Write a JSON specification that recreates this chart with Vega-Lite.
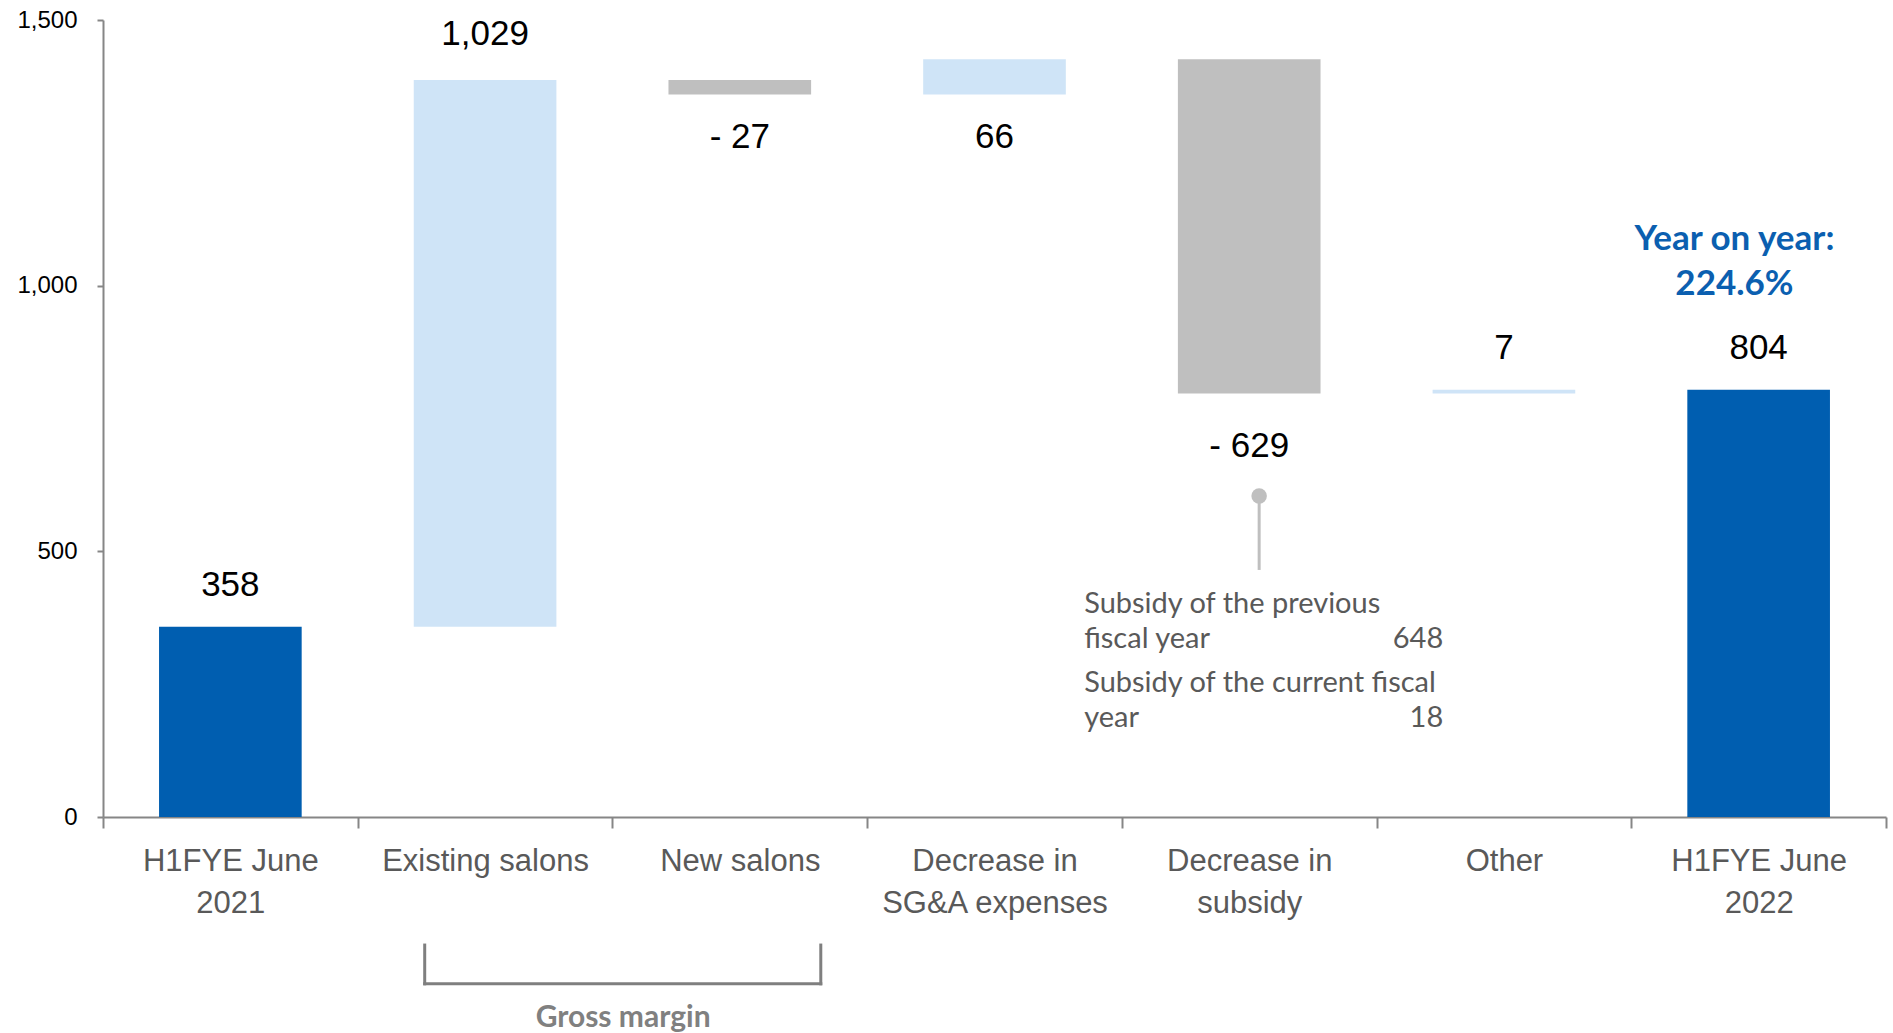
{
  "$schema": "https://vega.github.io/schema/vega-lite/v6.json",
  "width": 1783,
  "height": 797,
  "autosize": {"type": "none"},
  "padding": {"left": 103, "top": 20, "right": 7, "bottom": 216},
  "background": "white",
  "config": {"view": {"stroke": null}, "font": "Liberation Sans"},
  "datasets": {
    "bars": [
      {"category": "H1FYE June 2021", "low": 0, "high": 358, "label": "358", "kind": "total"},
      {"category": "Existing salons", "low": 358, "high": 1387, "label": "1,029", "kind": "increase"},
      {"category": "New salons", "low": 1360, "high": 1387, "label": "- 27", "kind": "decrease"},
      {"category": "Decrease in SG&A expenses", "low": 1360, "high": 1426, "label": "66", "kind": "increase"},
      {"category": "Decrease in subsidy", "low": 797, "high": 1426, "label": "- 629", "kind": "decrease"},
      {"category": "Other", "low": 797, "high": 804, "label": "7", "kind": "increase"},
      {"category": "H1FYE June 2022", "low": 0, "high": 804, "label": "804", "kind": "total"}
    ],
    "noteText": [
      {"category": "Decrease in subsidy", "text": "Subsidy of the previous", "value": 401},
      {"category": "Decrease in subsidy", "text": "fiscal year", "value": 335},
      {"category": "Decrease in subsidy", "text": "Subsidy of the current fiscal", "value": 252},
      {"category": "Decrease in subsidy", "text": "year", "value": 186}
    ],
    "noteNum": [
      {"category": "Decrease in subsidy", "text": "648", "value": 335},
      {"category": "Decrease in subsidy", "text": "18", "value": 186}
    ],
    "connector": [
      {"category": "Decrease in subsidy", "top": 604, "bottom": 465}
    ],
    "yoy": [
      {"category": "H1FYE June 2022", "text": "Year on year:", "value": 1088},
      {"category": "H1FYE June 2022", "text": "224.6%", "value": 1003}
    ],
    "bracket": [
      {"from": "Existing salons", "to": "New salons", "top": -241, "bottom": -314, "text": "Gross margin", "textValue": -378}
    ]
  },
  "layer": [
    {
      "data": {"name": "bars"},
      "mark": {"type": "bar", "width": {"band": 0.56}},
      "encoding": {
        "x": {
          "field": "category", "type": "nominal", "sort": null,
          "scale": {"domain": ["H1FYE June 2021", "Existing salons", "New salons", "Decrease in SG&A expenses", "Decrease in subsidy", "Other", "H1FYE June 2022"], "paddingInner": 0, "paddingOuter": 0},
          "axis": {
            "title": null, "labelAngle": 0, "labelFont": "Liberation Sans", "labelFontSize": 31,
            "labelColor": "#595959", "labelLineHeight": 42, "labelPadding": 18, "labelBaseline": "top",
            "tickSize": 11, "tickColor": "#868686", "tickWidth": 2, "domainColor": "#868686", "domainWidth": 2,
            "tickBand": "extent", "labelLimit": 400,
            "labelExpr": "datum.label == 'H1FYE June 2021' ? ['H1FYE June', '2021'] : datum.label == 'Decrease in SG&A expenses' ? ['Decrease in', 'SG&A expenses'] : datum.label == 'Decrease in subsidy' ? ['Decrease in', 'subsidy'] : datum.label == 'H1FYE June 2022' ? ['H1FYE June', '2022'] : datum.label"
          }
        },
        "y": {
          "field": "low", "type": "quantitative",
          "scale": {"domain": [0, 1500], "nice": false},
          "axis": {
            "title": null, "values": [0, 500, 1000, 1500], "format": ",d", "grid": false,
            "labelFont": "Liberation Sans", "labelFontSize": 24, "labelColor": "#000000", "labelPadding": 20,
            "tickSize": 6, "tickColor": "#868686", "tickWidth": 2, "domainColor": "#868686", "domainWidth": 2
          }
        },
        "y2": {"field": "high"},
        "color": {
          "field": "kind", "type": "nominal",
          "scale": {"domain": ["total", "increase", "decrease"], "range": ["#005EB0", "#CFE4F7", "#BFBFBF"]},
          "legend": null
        }
      }
    },
    {
      "data": {"name": "bars"},
      "transform": [{"filter": {"field": "category", "oneOf": ["H1FYE June 2021", "Other", "H1FYE June 2022"]}}],
      "mark": {"type": "text", "baseline": "middle", "align": "center", "dy": -42, "fontSize": 35, "font": "Liberation Sans", "color": "#000000"},
      "encoding": {
        "x": {"field": "category", "type": "nominal", "sort": null, "scale": {"domain": ["H1FYE June 2021", "Existing salons", "New salons", "Decrease in SG&A expenses", "Decrease in subsidy", "Other", "H1FYE June 2022"]}},
        "y": {"field": "high", "type": "quantitative"},
        "text": {"field": "label"}
      }
    },
    {
      "data": {"name": "bars"},
      "transform": [{"filter": {"field": "category", "oneOf": ["Existing salons"]}}],
      "mark": {"type": "text", "baseline": "middle", "align": "center", "dy": -46, "fontSize": 35, "font": "Liberation Sans", "color": "#000000"},
      "encoding": {
        "x": {"field": "category", "type": "nominal", "sort": null, "scale": {"domain": ["H1FYE June 2021", "Existing salons", "New salons", "Decrease in SG&A expenses", "Decrease in subsidy", "Other", "H1FYE June 2022"]}},
        "y": {"field": "high", "type": "quantitative"},
        "text": {"field": "label"}
      }
    },
    {
      "data": {"name": "bars"},
      "transform": [{"filter": {"field": "category", "oneOf": ["New salons", "Decrease in SG&A expenses"]}}],
      "mark": {"type": "text", "baseline": "middle", "align": "center", "dy": 43, "fontSize": 35, "font": "Liberation Sans", "color": "#000000"},
      "encoding": {
        "x": {"field": "category", "type": "nominal", "sort": null, "scale": {"domain": ["H1FYE June 2021", "Existing salons", "New salons", "Decrease in SG&A expenses", "Decrease in subsidy", "Other", "H1FYE June 2022"]}},
        "y": {"field": "low", "type": "quantitative"},
        "text": {"field": "label"}
      }
    },
    {
      "data": {"name": "bars"},
      "transform": [{"filter": {"field": "category", "oneOf": ["Decrease in subsidy"]}}],
      "mark": {"type": "text", "baseline": "middle", "align": "center", "dy": 52, "fontSize": 35, "font": "Liberation Sans", "color": "#000000"},
      "encoding": {
        "x": {"field": "category", "type": "nominal", "sort": null, "scale": {"domain": ["H1FYE June 2021", "Existing salons", "New salons", "Decrease in SG&A expenses", "Decrease in subsidy", "Other", "H1FYE June 2022"]}},
        "y": {"field": "low", "type": "quantitative"},
        "text": {"field": "label"}
      }
    },
    {
      "data": {"name": "connector"},
      "mark": {"type": "rule", "color": "#BFBFBF", "strokeWidth": 3},
      "encoding": {
        "x": {"field": "category", "type": "nominal", "bandPosition": 0.539, "sort": null, "scale": {"domain": ["H1FYE June 2021", "Existing salons", "New salons", "Decrease in SG&A expenses", "Decrease in subsidy", "Other", "H1FYE June 2022"]}},
        "y": {"field": "top", "type": "quantitative"},
        "y2": {"field": "bottom"}
      }
    },
    {
      "data": {"name": "connector"},
      "mark": {"type": "point", "filled": true, "shape": "circle", "size": 240, "color": "#BFBFBF", "opacity": 1},
      "encoding": {
        "x": {"field": "category", "type": "nominal", "bandPosition": 0.539, "sort": null, "scale": {"domain": ["H1FYE June 2021", "Existing salons", "New salons", "Decrease in SG&A expenses", "Decrease in subsidy", "Other", "H1FYE June 2022"]}},
        "y": {"field": "top", "type": "quantitative"}
      }
    },
    {
      "data": {"name": "noteText"},
      "mark": {"type": "text", "align": "left", "baseline": "middle", "dx": -165, "fontSize": 29, "font": "Lato", "color": "#595959"},
      "encoding": {
        "x": {"field": "category", "type": "nominal", "sort": null, "scale": {"domain": ["H1FYE June 2021", "Existing salons", "New salons", "Decrease in SG&A expenses", "Decrease in subsidy", "Other", "H1FYE June 2022"]}},
        "y": {"field": "value", "type": "quantitative"},
        "text": {"field": "text"}
      }
    },
    {
      "data": {"name": "noteNum"},
      "mark": {"type": "text", "align": "right", "baseline": "middle", "dx": 194, "fontSize": 29, "font": "Lato", "color": "#595959"},
      "encoding": {
        "x": {"field": "category", "type": "nominal", "sort": null, "scale": {"domain": ["H1FYE June 2021", "Existing salons", "New salons", "Decrease in SG&A expenses", "Decrease in subsidy", "Other", "H1FYE June 2022"]}},
        "y": {"field": "value", "type": "quantitative"},
        "text": {"field": "text"}
      }
    },
    {
      "data": {"name": "yoy"},
      "mark": {"type": "text", "align": "center", "baseline": "middle", "fontSize": 35, "font": "Lato", "fontWeight": "bold", "color": "#0B5FB0"},
      "encoding": {
        "x": {"field": "category", "type": "nominal", "bandPosition": 0.405, "sort": null, "scale": {"domain": ["H1FYE June 2021", "Existing salons", "New salons", "Decrease in SG&A expenses", "Decrease in subsidy", "Other", "H1FYE June 2022"]}},
        "y": {"field": "value", "type": "quantitative"},
        "text": {"field": "text"}
      }
    },
    {
      "data": {"name": "bracket"},
      "mark": {"type": "rule", "color": "#7F7F7F", "strokeWidth": 3, "strokeCap": "square"},
      "encoding": {
        "x": {"field": "from", "type": "nominal", "bandPosition": 0.263, "sort": null, "scale": {"domain": ["H1FYE June 2021", "Existing salons", "New salons", "Decrease in SG&A expenses", "Decrease in subsidy", "Other", "H1FYE June 2022"]}},
        "y": {"field": "top", "type": "quantitative"},
        "y2": {"field": "bottom"}
      }
    },
    {
      "data": {"name": "bracket"},
      "mark": {"type": "rule", "color": "#7F7F7F", "strokeWidth": 3, "strokeCap": "square"},
      "encoding": {
        "x": {"field": "to", "type": "nominal", "bandPosition": 0.818, "sort": null, "scale": {"domain": ["H1FYE June 2021", "Existing salons", "New salons", "Decrease in SG&A expenses", "Decrease in subsidy", "Other", "H1FYE June 2022"]}},
        "y": {"field": "top", "type": "quantitative"},
        "y2": {"field": "bottom"}
      }
    },
    {
      "data": {"name": "bracket"},
      "mark": {"type": "rule", "color": "#7F7F7F", "strokeWidth": 3, "strokeCap": "square"},
      "encoding": {
        "x": {"field": "from", "type": "nominal", "bandPosition": 0.263, "sort": null, "scale": {"domain": ["H1FYE June 2021", "Existing salons", "New salons", "Decrease in SG&A expenses", "Decrease in subsidy", "Other", "H1FYE June 2022"]}},
        "x2": {"field": "to", "bandPosition": 0.818},
        "y": {"field": "bottom", "type": "quantitative"}
      }
    },
    {
      "data": {"name": "bracket"},
      "mark": {"type": "text", "align": "center", "baseline": "middle", "fontSize": 30, "font": "Lato", "fontWeight": "bold", "color": "#808080"},
      "encoding": {
        "x": {"field": "from", "type": "nominal", "bandPosition": 1.042, "sort": null, "scale": {"domain": ["H1FYE June 2021", "Existing salons", "New salons", "Decrease in SG&A expenses", "Decrease in subsidy", "Other", "H1FYE June 2022"]}},
        "y": {"field": "textValue", "type": "quantitative"},
        "text": {"field": "text"}
      }
    }
  ]
}
